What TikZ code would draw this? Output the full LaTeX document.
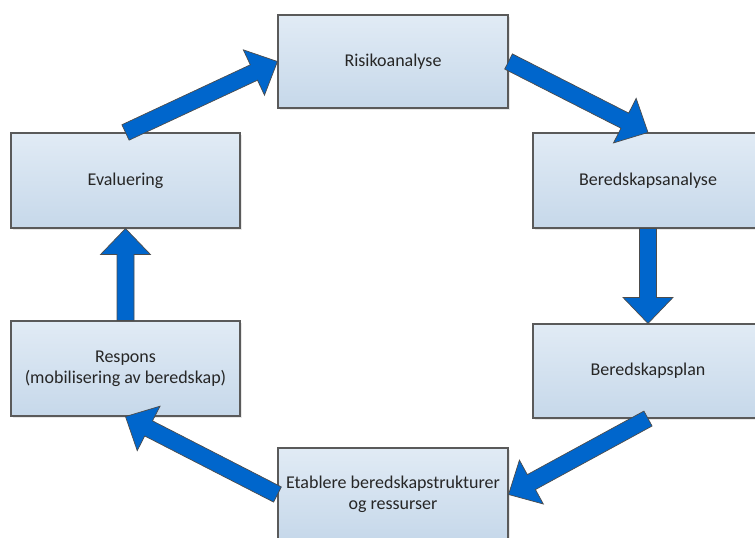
\documentclass[tikz,border=0pt]{standalone}
\usepackage{fontspec}
\setmainfont{Carlito}
\usetikzlibrary{calc,shadows}

\definecolor{boxtop}{HTML}{E1EBF5}
\definecolor{boxbot}{HTML}{C6D8EA}
\definecolor{edge}{HTML}{5A5A5A}
\definecolor{flow}{HTML}{0066CC}
\definecolor{ink}{HTML}{262626}

\tikzset{
  stage/.style={draw=edge, line width=1.1pt, top color=boxtop, bottom color=boxbot,
    minimum width=230pt, minimum height=94pt, inner sep=0pt, align=center,
    text=ink, font=\fontsize{18}{21}\selectfont,
    drop shadow={opacity=0.18, shadow xshift=2pt, shadow yshift=-2pt}},
  flowarrow/.style={fill=flow, draw=edge!85!black, line width=0.7pt, line join=miter},
}

% Block arrow from #1 to #2: a straight shaft with a triangular head
\newcommand\blockflow[2]{%
  \coordinate (bf-s) at (#1);
  \coordinate (bf-e) at (#2);
  \coordinate (bf-h) at ($(bf-e)!26pt!(bf-s)$);
  \draw[flowarrow]
    ($(bf-s)!8.5pt!90:(bf-e)$) --
    ($(bf-h)!8.5pt!90:(bf-e)$) --
    ($(bf-h)!25pt!90:(bf-e)$) --
    (bf-e) --
    ($(bf-h)!25pt!-90:(bf-e)$) --
    ($(bf-h)!8.5pt!-90:(bf-e)$) --
    ($(bf-s)!8.5pt!-90:(bf-e)$) -- cycle;
}

\begin{document}
\begin{tikzpicture}[x=1pt, y=-1pt]
  \useasboundingbox (0,0) rectangle (755,538);
  \clip (0,0) rectangle (755,538);

  % process stages
  \node[stage, minimum height=93pt] (risk) at (393,61.5) {Risikoanalyse};
  \node[stage, minimum width=229pt, minimum height=95pt] (eval) at (125.5,180.5) {Evaluering};
  \node[stage, minimum height=95pt] (ana) at (648,180.5) {Beredskapsanalyse};
  \node[stage] (plan) at (648,371) {Beredskapsplan};
  \node[stage, minimum width=229pt, minimum height=95pt] (resp) at (125.5,368.5)
    {Respons\\(mobilisering av beredskap)};
  \node[stage, minimum height=93pt] (etab) at (393,494.5)
    {Etablere beredskapstrukturer\\og ressurser};

  % cycle of block arrows
  \blockflow{eval.north}{risk.west}
  \blockflow{risk.east}{ana.north}
  \blockflow{ana.south}{plan.north}
  \blockflow{plan.south}{etab.east}
  \blockflow{etab.west}{resp.south}
  \blockflow{resp.north}{eval.south}
\end{tikzpicture}
\end{document}
